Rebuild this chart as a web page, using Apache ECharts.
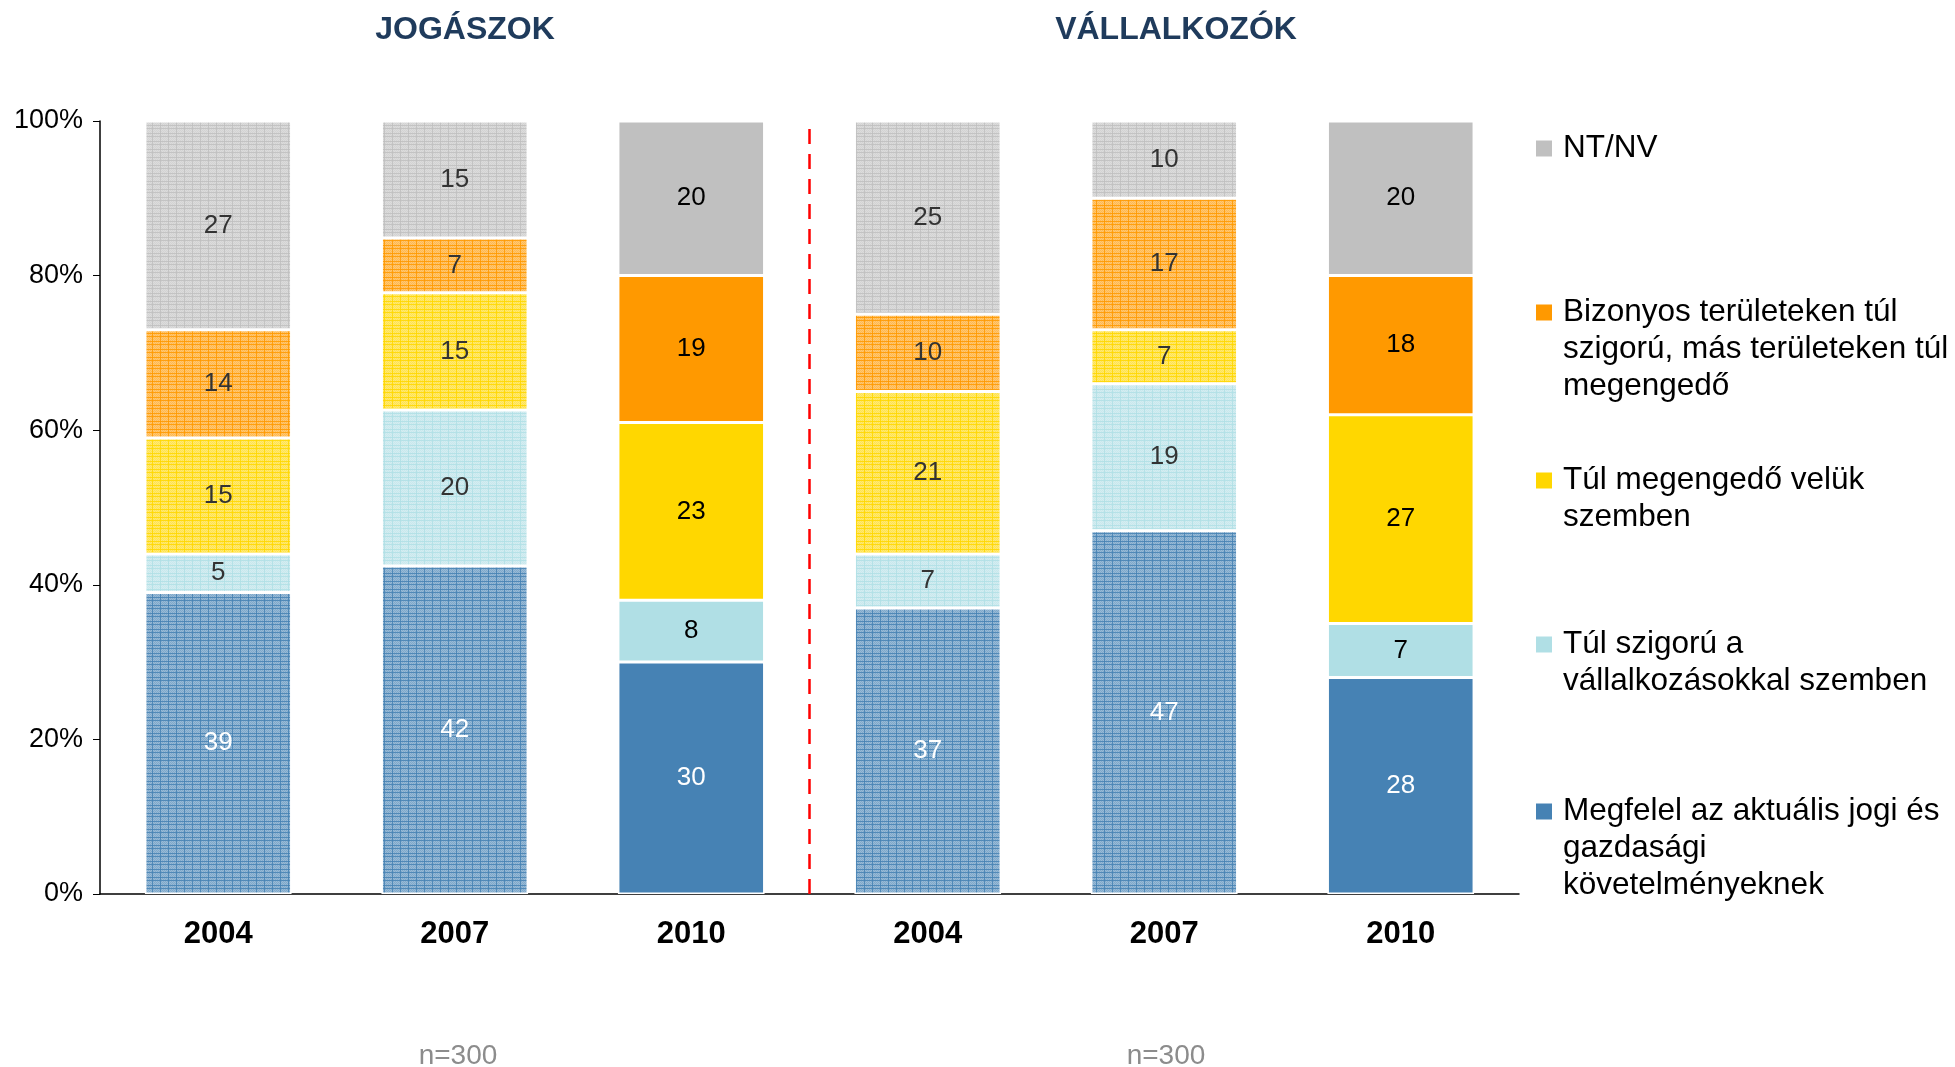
<!DOCTYPE html>
<html>
<head>
<meta charset="utf-8">
<script src="https://cdn.jsdelivr.net/npm/echarts@6/dist/echarts.min.js"></script>
<style>
  html, body { margin: 0; padding: 0; background: #fff; }
  #main { width: 1955px; height: 1067px; }
</style>
</head>
<body>
<div id="main"></div>
<script>
  // adatok
  const years = ['2004', '2007', '2010', '2004', '2007', '2010']
  const groupTitles = ['JOGÁSZOK', 'VÁLLALKOZÓK']
  const sampleNotes = ['n=300', 'n=300']
  const yTicks = [0, 20, 40, 60, 80, 100]

  const megfelel = [39, 42, 30, 37, 47, 28]
  const tulSzigoru = [5, 20, 8, 7, 19, 7]
  const tulMegengedo = [15, 15, 23, 21, 7, 27]
  const bizonyos = [14, 7, 19, 10, 17, 18]
  const ntnv = [27, 15, 20, 25, 10, 20]

  const seriesNames = [
    'Megfelel az aktuális jogi és\ngazdasági\nkövetelményeknek',
    'Túl szigorú a\nvállalkozásokkal szemben',
    'Túl megengedő velük\nszemben',
    'Bizonyos területeken túl\nszigorú, más területeken túl\nmegengedő',
    'NT/NV'
  ]

  // stílus
  const colors = ['#4682B4', '#B0DFE5', '#FFD700', '#FF9900', '#C0C0C0']
  const patterned = [0, 1, 3, 4] // 2004 és 2007 oszlopok mintázottak
  const FONT = 'Liberation Sans, Arial, sans-serif'

  const allSeries = [megfelel, tulSzigoru, tulMegengedo, bizonyos, ntnv]
  const totals = years.map((y, i) => allSeries.reduce((s, arr) => s + arr[i], 0))

  function mix (hex, t) {
    const n = parseInt(hex.slice(1), 16)
    const r = Math.round(((n >> 16) & 255) * (1 - t) + 255 * t)
    const g = Math.round(((n >> 8) & 255) * (1 - t) + 255 * t)
    const b = Math.round((n & 255) * (1 - t) + 255 * t)
    return 'rgb(' + r + ',' + g + ',' + b + ')'
  }

  function makePattern (hex) {
    let c = document.createElement('canvas')
    c.width = 8
    c.height = 8
    let g = c.getContext('2d')
    g.fillStyle = mix(hex, 0.45)
    g.fillRect(0, 0, 8, 8)
    g.fillStyle = hex
    g.globalAlpha = 0.3
    for (let y = 0; y < 8; y++) {
      for (let x = 0; x < 8; x++) {
        if ((x + y) % 2 === 0) g.fillRect(x, y, 1, 1)
      }
    }
    g.globalAlpha = 0.85
    g.fillRect(0, 0, 8, 1)
    g.fillRect(0, 0, 1, 8)
    g.fillRect(0, 5, 8, 1)
    return { image: c, repeat: 'repeat' }
  }

  const series = allSeries.map((arr, si) => {
    const pat = makePattern(colors[si])
    return {
      name: seriesNames[si],
      type: 'bar',
      stack: 'total',
      barCategoryGap: '38%',
      itemStyle: { color: colors[si], borderColor: '#fff', borderWidth: 1.5 },
      data: arr.map((v, i) => {
        const isPat = patterned.indexOf(i) >= 0
        return {
          value: v / totals[i] * 100,
          raw: v,
          itemStyle: { color: isPat ? pat : colors[si] },
          label: { color: si === 0 ? '#fff' : (isPat ? '#333' : '#000') }
        }
      }),
      label: {
        show: true,
        position: 'inside',
        fontFamily: FONT,
        fontSize: 26,
        formatter: p => String(p.data.raw)
      }
    }
  })

  // piros szaggatott elválasztó a két csoport között (rejtett érték-tengelyen)
  series.push({
    type: 'line',
    xAxisIndex: 1,
    data: [],
    silent: true,
    markLine: {
      silent: true,
      symbol: 'none',
      label: { show: false },
      lineStyle: { color: '#FF0000', width: 2.5, type: [15, 10] },
      data: [{ xAxis: 3 }]
    }
  })

  // jelmagyarázat, első sor középvonala
  const legendY = [814, 647, 483, 315, 151]
  const LH = 37
  const legends = seriesNames.map((name, si) => {
    return {
      left: 1531,
      top: legendY[si] - LH / 2,
      padding: 0,
      orient: 'vertical',
      selectedMode: false,
      icon: 'none',
      itemWidth: 0,
      itemHeight: 10,
      itemGap: 0,
      data: [name],
      formatter: nm => nm.split('\n').map((ln, k) =>
        (k === 0 ? '{sq| }{g| }' : '{ind| }') + '{t|' + ln + '}').join('\n'),
      textStyle: {
        rich: {
          sq: { width: 16, height: 16, backgroundColor: colors[si] },
          g: { width: 11 },
          ind: { width: 27 },
          t: { fontFamily: FONT, fontSize: 31.5, lineHeight: LH, color: '#000' }
        }
      }
    }
  })

  const titles = [
    { text: groupTitles[0], left: 465, top: 14, padding: 0, textAlign: 'center',
      textStyle: { fontFamily: FONT, fontSize: 32, fontWeight: 'bold', color: '#1F3B5C' } },
    { text: groupTitles[1], left: 1176, top: 14, padding: 0, textAlign: 'center',
      textStyle: { fontFamily: FONT, fontSize: 32, fontWeight: 'bold', color: '#1F3B5C' } },
    { text: sampleNotes[0], left: 458, top: 1042, padding: 0, textAlign: 'center',
      textStyle: { fontFamily: FONT, fontSize: 28, fontWeight: 'normal', color: '#8C8C8C' } },
    { text: sampleNotes[1], left: 1166, top: 1042, padding: 0, textAlign: 'center',
      textStyle: { fontFamily: FONT, fontSize: 28, fontWeight: 'normal', color: '#8C8C8C' } }
  ]

  let chart = echarts.init(document.getElementById('main'))
  chart.setOption({
    animation: false,
    backgroundColor: '#fff',
    title: titles,
    legend: legends,
    grid: { left: 100, right: 436, top: 121, bottom: 173 },
    xAxis: [{
      type: 'category',
      data: years,
      axisLine: { lineStyle: { color: '#000', width: 1.5 } },
      axisTick: { show: false },
      axisLabel: { fontFamily: FONT, fontSize: 31, fontWeight: 'bold', color: '#000', margin: 25 },
      splitLine: { show: false }
    }, {
      type: 'value',
      show: false,
      min: 0,
      max: years.length
    }],
    yAxis: {
      type: 'value',
      min: yTicks[0],
      max: yTicks[yTicks.length - 1],
      interval: yTicks[1] - yTicks[0],
      axisLine: { show: true, lineStyle: { color: '#000', width: 1.5 } },
      axisTick: { show: true, length: 7, lineStyle: { color: '#000' } },
      splitLine: { show: false },
      axisLabel: { fontFamily: FONT, fontSize: 27, color: '#000', margin: 17, formatter: '{value}%' }
    },
    series: series
  })
</script>
</body>
</html>
